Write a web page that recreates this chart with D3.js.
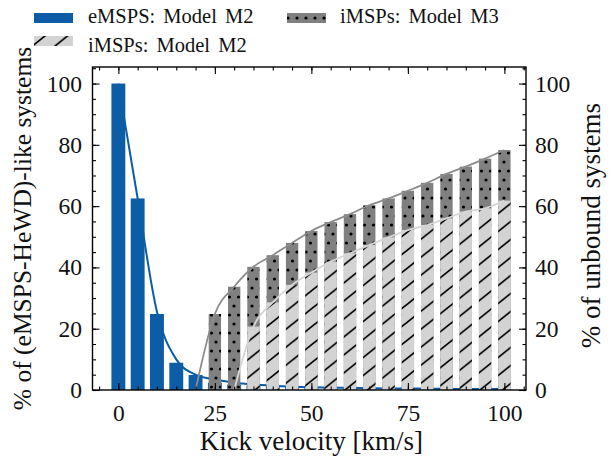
<!DOCTYPE html>
<html>
<head>
<meta charset="utf-8">
<script src="https://cdn.jsdelivr.net/npm/d3@7/dist/d3.min.js"></script>
<style>
    body { margin: 0; background: #fff; }
</style>
</head>
<body>
<div id="chart"></div>
<script>
// kick velocity bins, km/s
let velocities = [0, 5, 10, 15, 20, 25, 30, 35, 40, 45, 50, 55, 60, 65, 70, 75, 80, 85, 90, 95, 100];

// % of (eMSP-HeWD)-like systems, model M2 (left axis)
let emspsM2 = [100, 62.5, 24.8, 8.9, 4.9, 2.4, 1.8, 1.4, 1.3, 1.1, 0.9, 0.7, 0.6, 0.5, 0.5, 0.4, 0.4, 0.3, 0.3, 0.3, 0.2];
let emspsCurve = [100, 62.5, 25.5, 10.0, 5.0, 3.4, 2.4, 1.8, 1.4, 1.1, 0.9, 0.8, 0.7, 0.6, 0.5, 0.5, 0.4, 0.4, 0.3, 0.3, 0.3];

// % of unbound systems (right axis)
let imspsM3 = [null, null, null, null, 0, 24.8, 33.7, 40.2, 44.0, 48.0, 51.9, 54.8, 57.4, 60.3, 62.5, 65.0, 67.6, 70.5, 72.9, 75.5, 78.3];
let imspsM2 = [null, null, null, null, null, null, 0, 20.7, 28.6, 34.3, 38.3, 41.9, 44.6, 47.3, 49.8, 52.2, 53.8, 56.0, 58.2, 59.3, 61.8];

let xTicks = [0, 25, 50, 75, 100];
let yTicks = [0, 20, 40, 60, 80, 100];

let blue = "#0C5DA5";
let serif = "Liberation Serif";
let width = 609, height = 461;
let plot = { left: 92.5, right: 526, top: 67, bottom: 390 };

let svg = d3.select("#chart").append("svg")
    .attr("width", width)
    .attr("height", height);

let x = d3.scaleLinear().domain([-6.7, 105.6]).range([plot.left, plot.right]);
let y = d3.scaleLinear().domain([0, 105.4]).range([plot.bottom, plot.top]);
let yR = d3.scaleLinear().domain([0, 105.4]).range([plot.bottom, plot.top]);

// hatch patterns (continuous across bars, like matplotlib)
let defs = svg.append("defs");

let dots = defs.append("pattern")
    .attr("id", "dots")
    .attr("patternUnits", "userSpaceOnUse")
    .attr("width", 9).attr("height", 18);
dots.append("rect").attr("width", 9).attr("height", 18).attr("fill", "#808080");
[[0, 0], [9, 0], [0, 18], [9, 18], [4.5, 9]].forEach(p => {
    dots.append("circle").attr("cx", p[0]).attr("cy", p[1]).attr("r", 1.6).attr("fill", "#000");
});

let hatch = defs.append("pattern")
    .attr("id", "hatch")
    .attr("patternUnits", "userSpaceOnUse")
    .attr("width", 22.5).attr("height", 18);
hatch.append("rect").attr("width", 22.5).attr("height", 18).attr("fill", "#d3d3d3");
hatch.append("path")
    .attr("d", "M-5.625,4.5L5.625,-4.5M0,18L22.5,0M16.875,22.5L28.125,13.5")
    .attr("stroke", "#000")
    .attr("stroke-width", 1.7);

let clip = defs.append("clipPath").attr("id", "plotclip");
clip.append("rect")
    .attr("x", plot.left).attr("y", plot.top)
    .attr("width", plot.right - plot.left).attr("height", plot.bottom - plot.top);

let g = svg.append("g").attr("clip-path", "url(#plotclip)");

// eMSPs bars and curve
let blueW = 3.6;
g.selectAll(".bar-e")
    .data(velocities.map((v, i) => ({ v: v, val: emspsM2[i] })))
    .enter().append("rect")
    .attr("class", "bar-e")
    .attr("x", d => x(d.v - blueW / 2))
    .attr("width", x(blueW) - x(0))
    .attr("y", d => y(d.val))
    .attr("height", d => y(0) - y(d.val))
    .attr("fill", blue);

g.append("path")
    .datum(velocities.map((v, i) => [v, emspsCurve[i]]))
    .attr("d", d3.line().x(d => x(d[0])).y(d => y(d[1])).curve(d3.curveMonotoneX))
    .attr("fill", "none")
    .attr("stroke", blue)
    .attr("stroke-width", 2);

// iMSPs bars: M3 dotted behind, M2 hatched in front
let greyW = 3.2;
let m3Data = velocities.map((v, i) => ({ v: v, val: imspsM3[i] })).filter(d => d.val > 0);
let m2Data = velocities.map((v, i) => ({ v: v, val: imspsM2[i] })).filter(d => d.val > 0);

g.selectAll(".bar-m3")
    .data(m3Data)
    .enter().append("rect")
    .attr("class", "bar-m3")
    .attr("x", d => x(d.v - greyW / 2))
    .attr("width", x(greyW) - x(0))
    .attr("y", d => yR(d.val))
    .attr("height", d => yR(0) - yR(d.val))
    .attr("fill", "url(#dots)");

g.selectAll(".bar-m2")
    .data(m2Data)
    .enter().append("rect")
    .attr("class", "bar-m2")
    .attr("x", d => x(d.v - greyW / 2))
    .attr("width", x(greyW) - x(0))
    .attr("y", d => yR(d.val))
    .attr("height", d => yR(0) - yR(d.val))
    .attr("fill", "url(#hatch)");

let lineR = d3.line()
    .defined(d => d[1] !== null)
    .x(d => x(d[0]))
    .y(d => yR(d[1]))
    .curve(d3.curveMonotoneX);

g.append("path")
    .datum(velocities.map((v, i) => [v, imspsM3[i]]))
    .attr("d", lineR)
    .attr("fill", "none")
    .attr("stroke", "#8c8c8c")
    .attr("stroke-width", 1.8);

g.append("path")
    .datum(velocities.map((v, i) => [v, imspsM2[i]]))
    .attr("d", lineR)
    .attr("fill", "none")
    .attr("stroke", "#d6d6d6")
    .attr("stroke-width", 1.8);

// axes, ticks pointing inward
let minorX = d3.range(-5, 106, 5);
let minorY = d3.range(0, 106, 5);

let styleAxis = sel => {
    sel.attr("font-family", serif).attr("font-size", 23.5);
    sel.select(".domain").remove();
    sel.selectAll("line").attr("stroke", "#000").attr("stroke-width", 1.1);
    sel.selectAll("text").attr("fill", "#111");
};

svg.append("g")
    .attr("transform", `translate(0,${plot.bottom})`)
    .call(d3.axisBottom(x).tickValues(minorX).tickSize(-3.5).tickFormat(""))
    .call(styleAxis);
svg.append("g")
    .attr("transform", `translate(0,${plot.bottom})`)
    .call(d3.axisBottom(x).tickValues(xTicks).tickSize(-7).tickPadding(14).tickFormat(d3.format("d")))
    .call(styleAxis);

svg.append("g")
    .attr("transform", `translate(0,${plot.top})`)
    .call(d3.axisTop(x).tickValues(minorX).tickSize(-3.5).tickFormat(""))
    .call(styleAxis);
svg.append("g")
    .attr("transform", `translate(0,${plot.top})`)
    .call(d3.axisTop(x).tickValues(xTicks).tickSize(-7).tickFormat(""))
    .call(styleAxis);

svg.append("g")
    .attr("transform", `translate(${plot.left},0)`)
    .call(d3.axisLeft(y).tickValues(minorY).tickSize(-3.5).tickFormat(""))
    .call(styleAxis);
svg.append("g")
    .attr("transform", `translate(${plot.left},0)`)
    .call(d3.axisLeft(y).tickValues(yTicks).tickSize(-7).tickPadding(10.5))
    .call(styleAxis);

svg.append("g")
    .attr("transform", `translate(${plot.right},0)`)
    .call(d3.axisRight(yR).tickValues(minorY).tickSize(-3.5).tickFormat(""))
    .call(styleAxis);
svg.append("g")
    .attr("transform", `translate(${plot.right},0)`)
    .call(d3.axisRight(yR).tickValues(yTicks).tickSize(-7).tickPadding(9))
    .call(styleAxis);

svg.append("rect")
    .attr("x", plot.left).attr("y", plot.top)
    .attr("width", plot.right - plot.left).attr("height", plot.bottom - plot.top)
    .attr("fill", "none")
    .attr("stroke", "#000")
    .attr("stroke-width", 1.4);

// axis labels
svg.append("text")
    .attr("x", (x(0) + x(100)) / 2)
    .attr("y", 450)
    .attr("text-anchor", "middle")
    .attr("font-family", serif)
    .attr("font-size", 27)
    .attr("fill", "#111")
    .text("Kick velocity [km/s]");

svg.append("text")
    .attr("transform", `translate(31,${(plot.top + plot.bottom) / 2}) rotate(-90)`)
    .attr("text-anchor", "middle")
    .attr("font-family", serif)
    .attr("font-size", 25.5)
    .attr("fill", "#111")
    .text("% of (eMSPS-HeWD)-like systems");

svg.append("text")
    .attr("transform", `translate(600,${(plot.top + plot.bottom) / 2 - 3}) rotate(-90)`)
    .attr("text-anchor", "middle")
    .attr("font-family", serif)
    .attr("font-size", 27)
    .attr("fill", "#111")
    .text("% of unbound systems");

// legend
let legend = [
    { label: "eMSPS: Model M2", fill: blue, sx: 34, sy: 13, tx: 88, ty: 23 },
    { label: "iMSPs: Model M3", fill: "url(#dots)", sx: 287, sy: 13, tx: 340, ty: 23 },
    { label: "iMSPs: Model M2", fill: "url(#hatch)", sx: 34, sy: 36, tx: 88, ty: 52 }
];

let lg = svg.append("g").selectAll("g")
    .data(legend).enter().append("g");

lg.append("rect")
    .attr("x", d => d.sx).attr("y", d => d.sy)
    .attr("width", 39).attr("height", 10)
    .attr("fill", d => d.fill);

lg.append("text")
    .attr("x", d => d.tx).attr("y", d => d.ty)
    .attr("font-family", serif)
    .attr("font-size", 20.5)
    .attr("word-spacing", 3)
    .attr("fill", "#111")
    .text(d => d.label);
</script>
</body>
</html>
